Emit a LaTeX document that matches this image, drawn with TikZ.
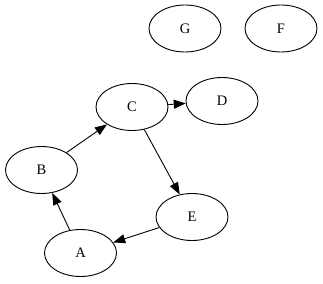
\documentclass[tikz,border=0pt]{standalone}
\usepackage{fontspec}
\setmainfont{Liberation Serif}
\usetikzlibrary{arrows.meta,shapes.geometric}
\begin{document}
\begin{tikzpicture}[x=1pt,y=-1pt,
  gnode/.style={draw,ellipse,line width=0.9pt,minimum width=72pt,minimum height=47pt,inner sep=0pt,font=\fontsize{14.5}{16}\selectfont},
  edge/.style={draw,line width=0.9pt,-{Triangle[length=12pt,width=9pt]}}]
\useasboundingbox (0,0) rectangle (323,283);
\node[gnode] (G) at (185,28.5) {G};
\node[gnode] (F) at (281,28.5) {F};
\node[gnode] (C) at (132,107) {C};
\node[gnode] (D) at (222,101) {D};
\node[gnode] (B) at (41.5,170) {B};
\node[gnode] (E) at (192,217) {E};
\node[gnode] (A) at (80.5,253) {A};
\draw[edge] (B) -- (C);
\draw[edge] (C) -- (D);
\draw[edge] (C) -- (E);
\draw[edge] (E) -- (A);
\draw[edge] (A) -- (B);
\end{tikzpicture}
\end{document}
